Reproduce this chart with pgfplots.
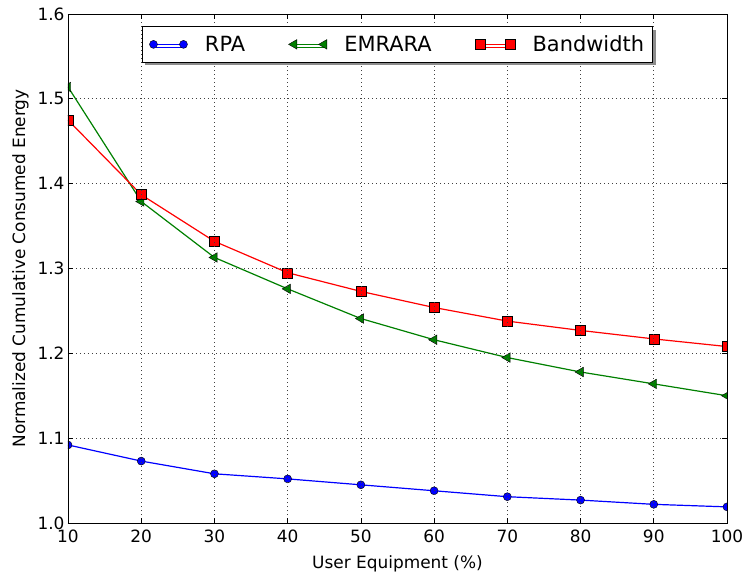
\documentclass[border=0pt]{standalone}
\usepackage{pgfplots}
\pgfplotsset{compat=1.18}
\usepackage{fontspec}
\setmainfont{DejaVu Sans}
\usetikzlibrary{shadows}

\definecolor{mplgreen}{rgb}{0,0.5,0}

\begin{document}
\begin{tikzpicture}
\useasboundingbox (-68bp,-52bp) rectangle (677bp,523bp);
\begin{axis}[
  scale only axis, width=659bp, height=509bp,
  xmin=10, xmax=100, ymin=1.0, ymax=1.6,
  xtick={10,20,30,40,50,60,70,80,90,100},
  ytick={1.0,1.1,1.2,1.3,1.4,1.5,1.6},
  yticklabel style={/pgf/number format/.cd, fixed, fixed zerofill, precision=1},
  /pgf/number format/assume math mode=true,
  tick align=inside, major tick length=5bp,
  xtick pos=both, ytick pos=both,
  grid=major, grid style={black!75, line width=0.7bp, dash pattern=on 1bp off 3bp},
  axis line style={line width=0.9bp},
  tick style={black, line width=0.7bp},
  ticklabel style={font=\fontsize{17}{20}\selectfont},
  xticklabel style={yshift=-3bp},
  label style={font=\fontsize{17}{20}\selectfont},
  xlabel={User Equipment (\%)},
  ylabel={Normalized Cumulative Consumed Energy},
  xlabel style={yshift=-6bp},
  ylabel style={yshift=2bp},
  axis on top,
  clip marker paths=true,
  legend columns=3,
  legend cell align=left,
  legend style={at={(0.5,0.976)}, anchor=north, draw=black, line width=0.9bp,
    fill=white, font=\fontsize{21}{24}\selectfont,
    inner xsep=7bp, inner ysep=7.5bp, nodes={inner sep=1.5bp},
    drop shadow={shadow xshift=3bp, shadow yshift=-3bp, fill=black!45, opacity=1},
    /tikz/every odd column/.append style={column sep=16bp},
    /tikz/every even column/.append style={column sep=42bp}},
  legend image code/.code={\draw[#1] plot coordinates {(0bp,0bp) (30bp,0bp)};},
]
\addplot[blue, line width=1.2bp, mark=*, mark size=4bp,
  mark options={fill=blue, draw=black, line width=0.4bp}] coordinates {
  (10,1.092) (20,1.073) (30,1.058) (40,1.052) (50,1.045)
  (60,1.038) (70,1.031) (80,1.027) (90,1.022) (100,1.019)};
\addlegendentry{RPA}
\addplot[mplgreen, line width=1.2bp, mark=triangle*, mark size=5.5bp,
  mark options={rotate=90, fill=mplgreen, draw=black, line width=0.4bp}] coordinates {
  (10,1.514) (20,1.379) (30,1.313) (40,1.276) (50,1.241)
  (60,1.216) (70,1.195) (80,1.178) (90,1.164) (100,1.150)};
\addlegendentry{EMRARA}
\addplot[red, line width=1.2bp, mark=square*, mark size=5bp,
  mark options={fill=red, draw=black, line width=0.4bp}] coordinates {
  (10,1.475) (20,1.387) (30,1.332) (40,1.295) (50,1.273)
  (60,1.254) (70,1.238) (80,1.227) (90,1.217) (100,1.208)};
\addlegendentry{Bandwidth}
\end{axis}
\end{tikzpicture}
\end{document}
